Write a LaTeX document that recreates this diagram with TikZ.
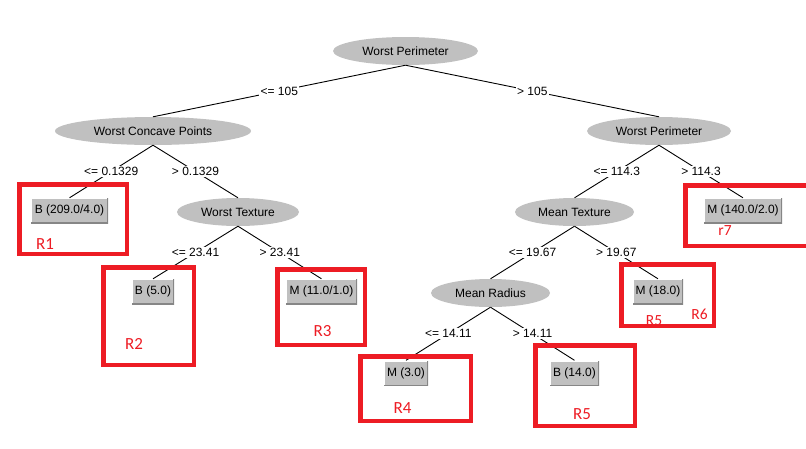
\documentclass[tikz,border=0pt]{standalone}
\usepackage{fontspec}
\setmainfont{Liberation Sans}
\newfontfamily\notefont{Carlito}
\usetikzlibrary{shapes.geometric}

\definecolor{nodegray}{RGB}{192,192,192}
\definecolor{edgedark}{RGB}{134,134,134}
\definecolor{markred}{RGB}{237,28,36}

\tikzset{
  treefont/.style={font=\fontsize{12}{14}\selectfont},
  split/.style={ellipse, fill=nodegray, inner sep=0pt, minimum height=28pt, treefont},
  leaf/.style={rectangle, fill=nodegray, inner sep=0pt, minimum height=25pt, treefont,
    path picture={
      \draw[white, line width=2pt]
        (path picture bounding box.south west) -- (path picture bounding box.north west)
        -- (path picture bounding box.north east);
      \draw[edgedark, line width=2pt]
        (path picture bounding box.south west) -- (path picture bounding box.south east)
        -- (path picture bounding box.north east);
    }},
  cond/.style={fill=white, inner sep=1.5pt, treefont},
  branch/.style={draw=black, line width=0.9pt},
  region/.style={draw=markred, line width=4.5pt},
  tag/.style={text=markred, inner sep=0pt, font=\notefont\fontsize{17}{17}\selectfont},
  smalltag/.style={tag, font=\notefont\fontsize{15.5}{15.5}\selectfont},
}

\begin{document}
\begin{tikzpicture}[x=1pt, y=-1pt]
  \clip (0,0) rectangle (806,448);

  % decision nodes
  \node[split, minimum width=145pt] (root) at (405.5,51)  {Worst Perimeter};
  \node[split, minimum width=196pt] (wcp)  at (153,131)   {Worst Concave Points};
  \node[split, minimum width=144pt] (wp)   at (659,131)   {Worst Perimeter};
  \node[split, minimum width=122pt] (wt)   at (238,212)   {Worst Texture};
  \node[split, minimum width=119pt] (mt)   at (574.5,212) {Mean Texture};
  \node[split, minimum width=119pt] (mr)   at (490.5,293) {Mean Radius};

  % leaves
  \node[leaf, minimum width=77pt] (b209) at (69.5,210.5)  {B (209.0/4.0)};
  \node[leaf, minimum width=78pt] (m140) at (743,210.5)   {M (140.0/2.0)};
  \node[leaf, minimum width=42pt] (b5)   at (153,291.5)   {B (5.0)};
  \node[leaf, minimum width=71pt] (m11)  at (321.5,291.5) {M (11.0/1.0)};
  \node[leaf, minimum width=50pt] (m18)  at (658,291.5)   {M (18.0)};
  \node[leaf, minimum width=44pt] (m3)   at (406,373)     {M (3.0)};
  \node[leaf, minimum width=49pt] (b14)  at (574.5,373)   {B (14.0)};

  % branches with their split conditions
  \draw[branch] (root.south) -- node[cond] (c1)  {<= 105}    (wcp.north);
  \draw[branch] (root.south) -- node[cond] (c2)  {> 105}     (wp.north);
  \draw[branch] (wcp.south)  -- node[cond] (c3)  {<= 0.1329} (b209.north);
  \draw[branch] (wcp.south)  -- node[cond] (c4)  {> 0.1329}  (wt.north);
  \draw[branch] (wp.south)   -- node[cond] (c5)  {<= 114.3}  (mt.north);
  \draw[branch] (wp.south)   -- node[cond] (c6)  {> 114.3}   (m140.north);
  \draw[branch] (wt.south)   -- node[cond] (c7)  {<= 23.41}  (b5.north);
  \draw[branch] (wt.south)   -- node[cond] (c8)  {> 23.41}   (m11.north);
  \draw[branch] (mt.south)   -- node[cond] (c9)  {<= 19.67}  (mr.north);
  \draw[branch] (mt.south)   -- node[cond] (c10) {> 19.67}   (m18.north);
  \draw[branch] (mr.south)   -- node[cond] (c11) {<= 14.11}  (m3.north);
  \draw[branch] (mr.south)   -- node[cond] (c12) {> 14.11}   (b14.north);

  % rule regions
  \node[tag] (t1) at (45,244)      {R1};
  \node[tag] (t2) at (134,344)     {R2};
  \node[tag] (t3) at (322.5,331.5) {R3};
  \node[tag] (t4) at (402.5,408.5) {R4};
  \node[tag] (t5) at (582,414.5)   {R5};
  \node[smalltag] (t6) at (699.5,314) {R6};
  \node[smalltag] (t7) at (725,231)   {r7};
  \begin{scope}
    \clip (635,300) rectangle (675,323.5);
    \node[smalltag] (t5b) at (654,321) {R5};
  \end{scope}

  \draw[region] (19.25,184.25)  rectangle (126.75,253.75);
  \draw[region] (103.25,267.25) rectangle (193.75,364.75);
  \draw[region] (277.25,269.25) rectangle (364.75,344.75);
  \draw[region] (360.25,356.25) rectangle (470.75,420.75);
  \draw[region] (535.25,345.25) rectangle (634.75,425.75);
  \draw[region] (621.25,264.25) rectangle (713.75,325.75);
  \draw[region] (685.25,185.25) rectangle (815,245.75);
\end{tikzpicture}
\end{document}
